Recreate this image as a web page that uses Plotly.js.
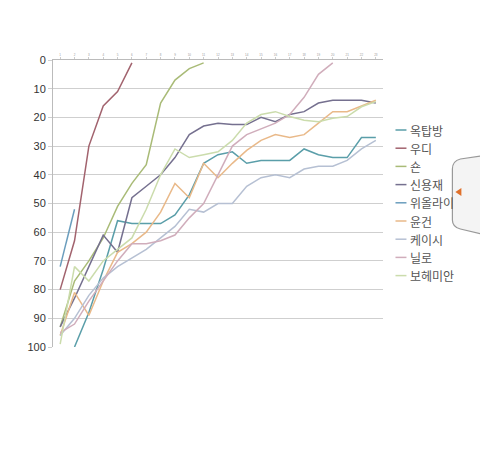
<!DOCTYPE html>
<html><head><meta charset="utf-8">
<script src="https://cdn.plot.ly/plotly-3.0.1.min.js"></script>
<style>html,body{margin:0;padding:0;background:#fff;}#c{width:480px;height:453px;}</style>
</head><body><div id="c"></div>
<script>
const xs = [1,2,3,4,5,6,7,8,9,10,11,12,13,14,15,16,17,18,19,20,21,22,23];
const names = ['옥탑방','우디','숀','신용재','위올라이','윤건','케이시','닐로','보헤미안'];
const colors = ['#5a9ea9','#a2636e','#a9bb77','#75708f','#6a9dbd','#e9b989','#b6c0d3','#d0adbb','#cbdcac'];
const okTapBang = [null,100,88,73,56,57,57,57,54,47,36,33,32,36,35,35,35,31,33,34,34,27,27];
const woody = [80,63,30,16,11,1];
const shaun = [93,77,70,62,51,43,36.5,15,7,3,1];
const shinYongJae = [93,83,72,61,67,48,44,40,34,26,23,22,22.5,22.5,20,21.5,19,18,15,14,14,14,15];
const weAllLie = [72,52];
const yoonGun = [96,81,89,77,67,64,60,53,43,48,36,41,36,31.5,28,26,27,26,22,18,18,16,14];
const casey = [96,90,82,76,72,69,66,62,58,52,53,50,50,44,41,40,41,38,37,37,35,31,28];
const nilo = [95,92,84,77,70,64,64,63,61,55,50,40,30,26,24,22,19,13,5,1];
const bohemian = [99,72,77,70,66,62,52,40,31,34,33,32,28,22,19,18,19.7,21,21.5,20.3,19.7,16.3,14.5];
const series = [okTapBang, woody, shaun, shinYongJae, weAllLie, yoonGun, casey, nilo, bohemian];
const yTicks = [0,10,20,30,40,50,60,70,80,90,100];

const W=480,H=453,L=53,R=96.5,T=60,B=106;
const pw=W-L-R, ph=H-T-B;
const px2x = p => (p-L)/pw;
const py2y = p => 1-(p-T)/ph;

const traces = series.map((s,i)=>({
  type:'scatter', mode:'lines', name:names[i],
  x: xs.slice(0,s.length), y: s,
  line:{color:colors[i], width:1.5}, connectgaps:false, showlegend:false
}));

const shapes = [];
const annotations = [];
names.forEach((n,i)=>{
  const py = 130 + 18.2*i;
  shapes.push({type:'line', xref:'paper', yref:'paper', x0:px2x(396), x1:px2x(407), y0:py2y(py), y1:py2y(py), line:{color:colors[i], width:1.5}});
  annotations.push({xref:'paper', yref:'paper', x:px2x(409), y:py2y(py), xanchor:'left', yanchor:'middle', showarrow:false, text:n, font:{family:'Noto Sans CJK KR, sans-serif', size:12, color:'#555'}});
});
// side tab
shapes.push({type:'path', xref:'paper', yref:'paper',
  path:`M ${px2x(482)},${py2y(156)} L ${px2x(461)},${py2y(159)} Q ${px2x(453)},${py2y(161)} ${px2x(453)},${py2y(169)} L ${px2x(453)},${py2y(220)} Q ${px2x(453)},${py2y(227)} ${px2x(461)},${py2y(229)} L ${px2x(482)},${py2y(234)} Z`,
  fillcolor:'#f4f4f4', line:{color:'#999', width:1.2}});
shapes.push({type:'path', xref:'paper', yref:'paper',
  path:`M ${px2x(456)},${py2y(192)} L ${px2x(462)},${py2y(188)} L ${px2x(462)},${py2y(196)} Z`,
  fillcolor:'#e0702a', line:{width:0}});

const layout = {
  width:W, height:H, margin:{l:L, r:R, t:T, b:B},
  paper_bgcolor:'#fff', plot_bgcolor:'#fff',
  font:{family:'Liberation Sans, Arial, sans-serif'},
  xaxis:{side:'top', range:[0.5,23.5], tickvals:xs, ticktext:xs.map(String), tickfont:{size:3, color:'#999'},
    showgrid:false, zeroline:false, showline:true, linecolor:'#bbb', linewidth:1, ticks:'outside', ticklen:2, tickcolor:'#ccc', fixedrange:true},
  yaxis:{range:[100,0], tickvals:yTicks, tickfont:{size:11, color:'#333'}, showgrid:true, gridcolor:'#cfcfcf', gridwidth:1,
    zeroline:false, showline:true, linecolor:'#bbb', linewidth:1, ticks:'outside', ticklen:4, tickcolor:'#cfcfcf', fixedrange:true},
  shapes, annotations, showlegend:false
};
Plotly.newPlot('c', traces, layout, {staticPlot:true});
</script></body></html>
